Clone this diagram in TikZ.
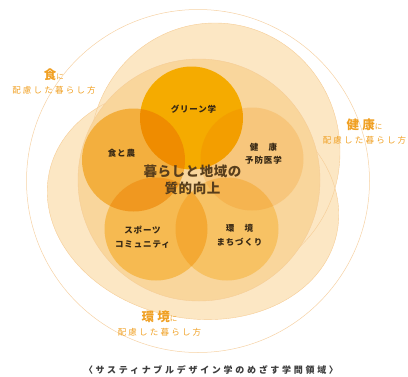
\documentclass[tikz,border=0pt]{standalone}
\usepackage{fontspec}
\newfontfamily\jp{Noto Sans CJK JP}
\definecolor{leaf}{RGB}{252,231,196}
\definecolor{mid}{RGB}{249,214,156}
\definecolor{rim}{RGB}{246,205,150}
\definecolor{ring}{RGB}{246,210,165}
\definecolor{cgreen}{RGB}{251,204,0}
\definecolor{cfood}{RGB}{249,209,102}
\definecolor{chealth}{RGB}{253,237,204}
\definecolor{csport}{RGB}{252,222,134}
\definecolor{cenv}{RGB}{253,232,165}
\definecolor{ink}{RGB}{55,40,20}
\definecolor{core}{RGB}{88,62,28}
\definecolor{amber}{RGB}{240,160,35}
\definecolor{greyink}{RGB}{60,60,60}
\tikzset{
  petal/.style={shape=circle,minimum size=103pt,inner sep=0pt,blend mode=multiply},
  tag/.style={font=\jp\bfseries\fontsize{8.5}{13.5}\selectfont\addfontfeature{LetterSpace=10},text=ink,align=center,inner sep=0pt},
  outer/.style={font=\jp\fontsize{8.5}{14}\selectfont,text=amber,align=center,inner sep=0pt},
}
\newcommand{\bigchar}[1]{{\bfseries\fontsize{12.5}{14}\selectfont\addfontfeature{LetterSpace=25}#1}}
\newcommand{\smallni}{{\fontsize{7.5}{14}\selectfont に}}
\newcommand{\wayline}{{\addfontfeature{LetterSpace=26}配慮した暮らし方}}
\begin{document}
\begin{tikzpicture}[x=1pt,y=-1pt]
\useasboundingbox(0,0)rectangle(408,376);
% big leaves
\fill[leaf](215,152)ellipse[x radius=125,y radius=129];
\fill[leaf,rotate around={-12:(193,203)}](193,203)ellipse[x radius=147,y radius=115];
\draw[rim,line width=.4pt](215,152)ellipse[x radius=125,y radius=129];
\draw[rim,line width=.4pt,rotate around={-12:(193,203)}](193,203)ellipse[x radius=147,y radius=115];
\filldraw[fill=mid,draw=rim,line width=.4pt](199,180)circle[radius=121];
% thin ring
\draw[draw=ring,line width=.5pt](198,181)circle[radius=171.5];
% five circles
\node[petal,fill=cgreen](green)at(191.5,118){};
\node[petal,fill=cfood](food)at(133.5,160){};
\node[petal,fill=chealth](health)at(252,159){};
\node[petal,fill=csport](sport)at(156,229){};
\node[petal,fill=cenv](env)at(227,229){};
% circle labels
\node[tag](lgreen)at(193.5,109){グリーン学};
\node[tag](lfood)at(121.5,153.5){食と農};
\node[tag](lhealth)at(263.5,154){健　康\\予防医学};
\node[tag](lsport)at(142.5,237){スポーツ\\コミュニティ};
\node[tag](lenv)at(239.5,235.5){環　境\\まちづくり};
\node[font=\jp\bfseries\fontsize{13.5}{16.5}\selectfont\addfontfeature{LetterSpace=4},text=core,align=center,inner sep=0pt](centre)at(192.5,180){暮らしと地域の\\質的向上};
% outer labels
\node[outer](wfood)at(54,81){\bigchar{食}\smallni\\\wayline};
\node[outer](whealth)at(364.5,132){\bigchar{健康}\smallni\\\wayline};
\node[outer](wenv)at(159.5,324){\bigchar{環境}\smallni\\\wayline};
% caption
\node[font=\jp\bfseries\fontsize{9}{10}\selectfont\addfontfeature{LetterSpace=30},text=greyink,inner sep=0pt](caption)at(211,370){〈サスティナブルデザイン学のめざす学問領域〉};
\end{tikzpicture}
\end{document}
